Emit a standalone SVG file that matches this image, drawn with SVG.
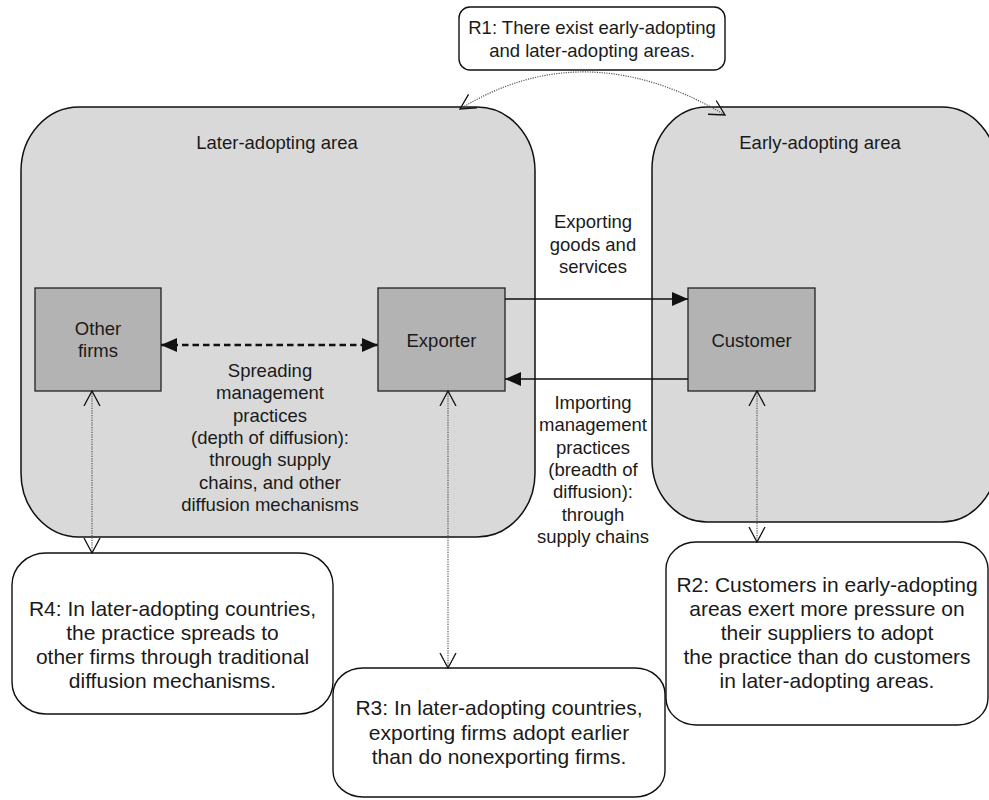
<svg xmlns="http://www.w3.org/2000/svg" width="989" height="800" viewBox="0 0 989 800">
<defs>
<style>
text{font-family:"Liberation Sans",Arial,sans-serif;fill:#1a1a1a;text-anchor:middle}
.lbl{font-size:18.5px}
.big{font-size:21px}
.area{fill:#d9d9d9;stroke:#111;stroke-width:1.5}
.box{fill:#b3b3b3;stroke:#222;stroke-width:1.3}
.rbox{fill:#fff;stroke:#111;stroke-width:1.4}
.solid{fill:none;stroke:#111;stroke-width:1.4}
.dash{fill:none;stroke:#111;stroke-width:2.6;stroke-dasharray:6.5 4}
.dot{fill:none;stroke:#555;stroke-width:1.2;stroke-dasharray:1.2 1.2}
</style>
<marker id="tri" viewBox="0 0 16 14" refX="16" refY="7" markerWidth="16" markerHeight="14" markerUnits="userSpaceOnUse" orient="auto-start-reverse">
<path d="M0,0 L16,7 L0,14 Z" fill="#111"/>
</marker>
<marker id="vee" viewBox="0 0 16 18" refX="15" refY="9" markerWidth="16" markerHeight="18" markerUnits="userSpaceOnUse" orient="auto-start-reverse">
<path d="M0,1 L15,9 L0,17" fill="none" stroke="#111" stroke-width="1.3"/>
</marker>
</defs>
<g id="later-area">
<rect class="area" x="21" y="107" width="514" height="430" rx="58" ry="64"/>
<text class="lbl" x="277" y="149">Later-adopting area</text>
</g>
<g id="early-area">
<rect class="area" x="652" y="107" width="345" height="415" rx="55" ry="62"/>
<text class="lbl" x="820" y="149">Early-adopting area</text>
</g>
<g id="other-firms">
<rect class="box" x="35" y="288" width="126" height="103"/>
<text class="lbl" x="98" y="335">Other</text>
<text class="lbl" x="98" y="357">firms</text>
</g>
<g id="exporter">
<rect class="box" x="378" y="288" width="127" height="103"/>
<text class="lbl" x="441.5" y="347">Exporter</text>
</g>
<g id="customer">
<rect class="box" x="688" y="288" width="127" height="103"/>
<text class="lbl" x="751.5" y="347">Customer</text>
</g>
<g id="r1">
<rect class="rbox" x="459" y="7" width="266" height="63" rx="11" ry="11"/>
<text class="lbl" x="592" y="34">R1: There exist early-adopting</text>
<text class="lbl" x="592" y="57">and later-adopting areas.</text>
</g>
<g id="r4">
<rect class="rbox" x="12" y="553" width="321" height="161" rx="34" ry="32"/>
<text class="big" x="172.5" y="616">R4: In later-adopting countries,</text>
<text class="big" x="172.5" y="640">the practice spreads to</text>
<text class="big" x="172.5" y="664">other firms through traditional</text>
<text class="big" x="172.5" y="688">diffusion mechanisms.</text>
</g>
<g id="r3">
<rect class="rbox" x="333" y="668" width="332" height="129" rx="30" ry="26"/>
<text class="big" x="499" y="715">R3: In later-adopting countries,</text>
<text class="big" x="499" y="740">exporting firms adopt earlier</text>
<text class="big" x="499" y="764">than do nonexporting firms.</text>
</g>
<g id="r2">
<rect class="rbox" x="666" y="542" width="322" height="183" rx="30" ry="27"/>
<text class="big" x="827" y="592">R2: Customers in early-adopting</text>
<text class="big" x="827" y="616">areas exert more pressure on</text>
<text class="big" x="827" y="640">their suppliers to adopt</text>
<text class="big" x="827" y="664">the practice than do customers</text>
<text class="big" x="827" y="688">in later-adopting areas.</text>
</g>
<g id="connectors">
<path class="solid" d="M505,299 H688" marker-end="url(#tri)"/>
<path class="solid" d="M688,379 H505" marker-end="url(#tri)"/>
<path class="dash" d="M161,345 H378" marker-start="url(#tri)" marker-end="url(#tri)"/>
<path class="dot" d="M92,391 V553" marker-start="url(#vee)" marker-end="url(#vee)"/>
<path class="dot" d="M448,391 V668" marker-start="url(#vee)" marker-end="url(#vee)"/>
<path class="dot" d="M757,391 V542" marker-start="url(#vee)" marker-end="url(#vee)"/>
<path class="dot" d="M460,109 Q585,32 725,115" marker-start="url(#vee)" marker-end="url(#vee)"/>
</g>
<g id="labels">
<text class="lbl" x="593" y="228">Exporting</text>
<text class="lbl" x="593" y="251">goods and</text>
<text class="lbl" x="593" y="273">services</text>
<text class="lbl" x="270" y="377">Spreading</text>
<text class="lbl" x="270" y="399">management</text>
<text class="lbl" x="270" y="422">practices</text>
<text class="lbl" x="270" y="444">(depth of diffusion):</text>
<text class="lbl" x="270" y="466">through supply</text>
<text class="lbl" x="270" y="489">chains, and other</text>
<text class="lbl" x="270" y="511">diffusion mechanisms</text>
<text class="lbl" x="593" y="409">Importing</text>
<text class="lbl" x="593" y="431">management</text>
<text class="lbl" x="593" y="454">practices</text>
<text class="lbl" x="593" y="476">(breadth of</text>
<text class="lbl" x="593" y="498">diffusion):</text>
<text class="lbl" x="593" y="521">through</text>
<text class="lbl" x="593" y="543">supply chains</text>
</g>
</svg>
